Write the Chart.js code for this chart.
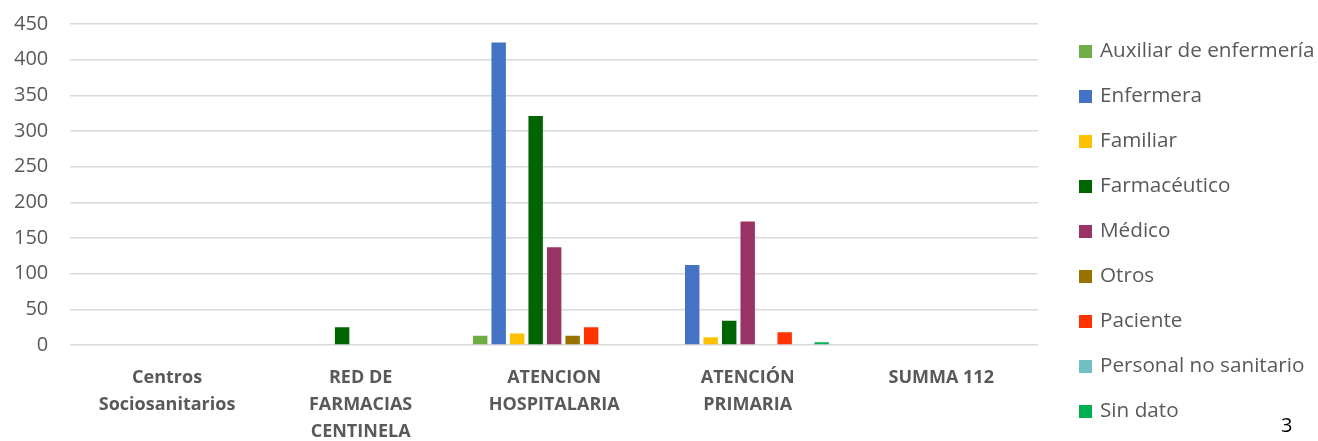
<!DOCTYPE html>
<html>
<head>
<meta charset="utf-8">
<script src="https://cdn.jsdelivr.net/npm/chart.js@4"></script>
<style>
html,body{margin:0;padding:0;background:#fff;}
#wrap{position:relative;width:1318px;height:441px;overflow:hidden;}
#page{position:absolute;left:1281px;top:411px;font:20px "Open Sans", sans-serif;color:#000;}
#legend{position:absolute;left:1079px;top:0;margin:0;padding:0;list-style:none;}
#legend li{position:absolute;left:0;white-space:nowrap;font:20.7px "Open Sans", sans-serif;color:#595959;height:26px;line-height:26px;}
#legend li span{display:inline-block;width:13px;height:13px;margin-right:8px;vertical-align:-1px;}
</style>
</head>
<body>
<div id="wrap"><canvas id="c" width="1318" height="441"></canvas><ul id="legend"></ul><div id="page">3</div></div>
<script>
const categories = [
  ["Centros", "Sociosanitarios"],
  ["RED DE", "FARMACIAS", "CENTINELA"],
  ["ATENCION", "HOSPITALARIA"],
  ["ATENCIÓN", "PRIMARIA"],
  ["SUMMA 112"]
];
const seriesNames = ["Auxiliar de enfermería","Enfermera","Familiar","Farmacéutico","Médico","Otros","Paciente","Personal no sanitario","Sin dato"];
const auxiliar   = [1, 0, 13, 0, 0];
const enfermera  = [1, 0, 424, 112, 1];
const familiar   = [0, 0, 16, 11, 0];
const farmaceutico = [1, 25, 321, 34, 0];
const medico     = [0, 0, 137, 173, 1];
const otros      = [0, 0, 13, 0, 0];
const paciente   = [0, 0, 25, 18, 0];
const personalNoSanitario = [0, 0, 1, 1, 0];
const sinDato    = [0, 0, 0, 4, 0];
const yTicks = [0, 50, 100, 150, 200, 250, 300, 350, 400, 450];

const colors = ["#70AD47","#4472C4","#FFC000","#006400","#993366","#997300","#FF3300","#70C0C4","#00B050"];
const allSeries = [auxiliar, enfermera, familiar, farmaceutico, medico, otros, paciente, personalNoSanitario, sinDato];

const datasets = allSeries.map((d, i) => ({
  label: seriesNames[i],
  data: d,
  backgroundColor: colors[i],
  borderWidth: 0,
  categoryPercentage: 0.86,
  barPercentage: 0.78
}));

// HTML legend (real text)
const legendEl = document.getElementById('legend');
seriesNames.forEach((name, i) => {
  const li = document.createElement('li');
  li.style.top = (49 + i * 45 - 13) + 'px';
  const sw = document.createElement('span');
  sw.style.background = colors[i];
  li.appendChild(sw);
  li.appendChild(document.createTextNode(name));
  legendEl.appendChild(li);
});

new Chart(document.getElementById('c'), {
  type: 'bar',
  data: { labels: categories, datasets },
  options: {
    responsive: false,
    animation: false,
    layout: { padding: { left: -8, top: 24, right: 280, bottom: -23 } },
    plugins: {
      tooltip: { enabled: false },
      legend: { display: false }
    },
    scales: {
      x: {
        grid: { display: false, drawTicks: false },
        border: { display: false },
        ticks: {
          color: '#595959',
          font: { family: 'Open Sans', size: 18, weight: 'bold', lineHeight: 1.5 },
          padding: 19,
          maxRotation: 0, autoSkip: false
        }
      },
      y: {
        min: 0, max: 450,
        afterBuildTicks: (ax) => { ax.ticks = yTicks.map(v => ({ value: v })); },
        afterFit: (s) => { s.paddingTop = 0; },
        grid: { color: '#d9d9d9', lineWidth: 1.5, drawTicks: false },
        border: { display: false },
        ticks: {
          color: '#595959',
          font: { family: 'Open Sans', size: 20 },
          padding: 22
        }
      }
    }
  }
});
</script>
</body>
</html>
